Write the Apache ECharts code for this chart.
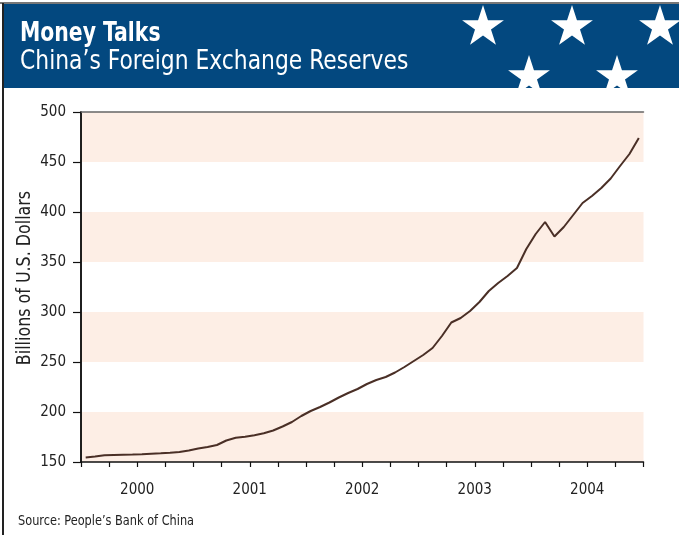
<!DOCTYPE html>
<html><head><meta charset="utf-8">
<script src="https://cdn.jsdelivr.net/npm/echarts@6/dist/echarts.min.js"></script>
<style>html,body{margin:0;padding:0;background:#fff}#c{width:679px;height:535px}</style>
</head><body><div id="c"></div>
<script>
const years = ['2000','2001','2002','2003','2004'];
const months = [];
years.forEach(y => { for (let m = 1; m <= 12; m++) months.push(y + '-' + (m < 10 ? '0' + m : m)); });
const reserves = [
  154.5,155.5,156.7,157.0,157.3,157.5,157.8,158.3,158.7,159.2,160.0,161.5,
  163.5,165.0,167.0,171.5,174.2,175.2,176.8,178.7,181.5,185.5,190.0,196.0,
  201.0,205.0,209.5,214.5,219.0,223.0,228.0,232.0,235.0,239.5,245.0,251.0,
  257.0,264.0,276.0,289.5,294.0,301.0,310.0,321.0,329.0,336.0,344.0,363.0,
  378.0,390.0,375.5,385.0,397.0,409.0,416.0,424.0,433.5,446.0,458.0,474.0
];
const yTicks = [150,200,250,300,350,400,450,500];

const FONT = '"Liberation Sans Narrow","DejaVu Sans Condensed","Roboto Condensed",sans-serif';

function starPts(cx, cy, R) {
  const r = R * 0.382, pts = [];
  for (let k = 0; k < 10; k++) {
    const a = -Math.PI / 2 + k * Math.PI / 5;
    const rr = k % 2 === 0 ? R : r;
    pts.push([cx + rr * Math.cos(a), cy + rr * Math.sin(a)]);
  }
  return pts;
}
const starCenters = [[483,27],[572,27],[660,27],[529,77],[617,77]];

const graphics = [
  {type: 'rect', shape: {x: 4, y: 4, width: 675, height: 84}, style: {fill: '#03487f'}, z: 10},
  {type: 'line', shape: {x1: 0, y1: 3, x2: 679, y2: 3}, style: {stroke: '#777', lineWidth: 2}, z: 14},
  {type: 'line', shape: {x1: 3, y1: 3, x2: 3, y2: 535}, style: {stroke: '#222', lineWidth: 2}, z: 14}
];
starCenters.forEach(c => graphics.push({type: 'polygon', shape: {points: starPts(c[0], c[1], 22)}, style: {fill: '#ffffff'}, z: 11}));
graphics.push({type: 'rect', shape: {x: 4, y: 88, width: 675, height: 14}, style: {fill: '#ffffff'}, z: 12});
graphics.push({type: 'text', x: 20, y: 20, scaleX: 0.84, z: 13, style: {text: 'Money Talks', fill: '#fff', font: 'bold 27px ' + FONT}});
graphics.push({type: 'text', x: 20, y: 48, scaleX: 0.9, z: 13, style: {text: 'China\u2019s Foreign Exchange Reserves', fill: '#fff', font: '27px ' + FONT}});
graphics.push({type: 'text', x: 18, y: 514, scaleX: 0.9, z: 13, style: {text: 'Source: People\u2019s Bank of China', fill: '#222', font: '14px ' + FONT}});
graphics.push({type: 'text', x: 25, y: 278, rotation: Math.PI / 2, scaleX: 0.93, z: 13,
  style: {text: 'Billions of U.S. Dollars', fill: '#222', font: '19px ' + FONT, align: 'center', verticalAlign: 'middle'}});

const chart = echarts.init(document.getElementById('c'), null, {renderer: 'canvas'});
chart.setOption({
  animation: false,
  backgroundColor: '#fff',
  grid: {left: 81, right: 35.5, top: 112, bottom: 73, containLabel: false},
  xAxis: [{
    type: 'value', min: 0, max: 60, interval: 3,
    axisLine: {show: true, lineStyle: {color: '#111', width: 1.5}},
    axisTick: {show: true, length: 5, lineStyle: {color: '#111', width: 1.2}},
    splitLine: {show: false},
    axisLabel: {
      margin: 21, color: '#222', fontFamily: FONT, fontSize: 15,
      formatter: v => (v % 12 === 6 ? years[(v - 6) / 12] : '')
    }
  }, {
    type: 'value', min: 0, max: 60, position: 'top',
    axisLine: {show: true, lineStyle: {color: '#666', width: 1.5}},
    axisTick: {show: false}, axisLabel: {show: false}, splitLine: {show: false}
  }],
  yAxis: [{
    type: 'value', min: yTicks[0], max: yTicks[yTicks.length - 1], interval: 50,
    axisLine: {show: true, lineStyle: {color: '#111', width: 1.5}},
    axisTick: {show: true, length: 8, lineStyle: {color: '#111', width: 1.2}},
    axisLabel: {margin: 15, color: '#222', fontFamily: FONT, fontSize: 15},
    splitLine: {show: false},
    splitArea: {show: true, areaStyle: {color: ['#fdeee5', '#ffffff']}}
  }, {
    type: 'value', min: 150, max: 500, position: 'right',
    axisLine: {show: true, lineStyle: {color: '#111', width: 1.5}},
    axisTick: {show: false}, axisLabel: {show: false}, splitLine: {show: false}
  }],
  series: [{
    type: 'line',
    data: reserves.map((v, i) => [i + 0.5, v]),
    symbol: 'none',
    lineStyle: {color: '#4a2f26', width: 2},
    z: 5
  }],
  graphic: graphics
});
</script></body></html>
